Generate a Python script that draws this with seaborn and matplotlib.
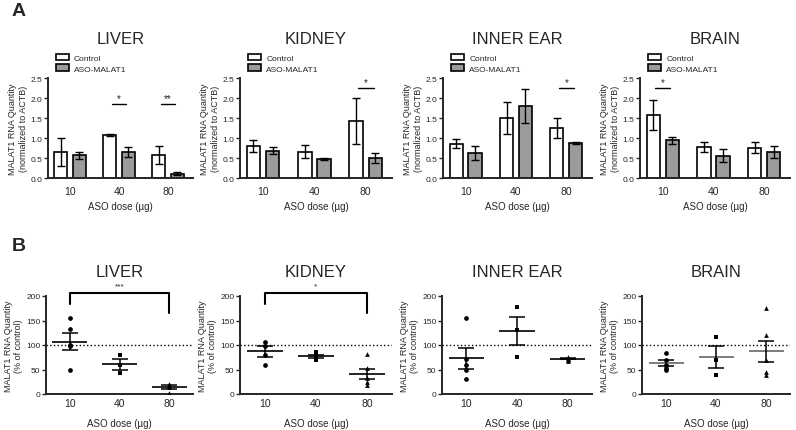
import numpy as np
import pandas as pd
import matplotlib
matplotlib.use('Agg')
import matplotlib.pyplot as plt
import seaborn as sns

tissues = ['LIVER', 'KIDNEY', 'INNER EAR', 'BRAIN']
doses = ['10', '40', '80']
groups = ['Control', 'ASO-MALAT1']

# Panel A: MALAT1 RNA (normalized to ACTB), mean and error per dose
ctrl_mean = {'LIVER': [0.65, 1.07, 0.58], 'KIDNEY': [0.80, 0.66, 1.42],
             'INNER EAR': [0.86, 1.50, 1.25], 'BRAIN': [1.57, 0.77, 0.76]}
ctrl_err = {'LIVER': [0.36, 0.03, 0.22], 'KIDNEY': [0.14, 0.17, 0.58],
            'INNER EAR': [0.12, 0.41, 0.24], 'BRAIN': [0.38, 0.12, 0.14]}
aso_mean = {'LIVER': [0.57, 0.65, 0.11], 'KIDNEY': [0.68, 0.47, 0.50],
            'INNER EAR': [0.62, 1.80, 0.88], 'BRAIN': [0.94, 0.56, 0.64]}
aso_err = {'LIVER': [0.09, 0.12, 0.03], 'KIDNEY': [0.09, 0.02, 0.12],
           'INNER EAR': [0.18, 0.42, 0.02], 'BRAIN': [0.08, 0.16, 0.15]}
sig_a = {'LIVER': {'40': '*', '80': '**'}, 'KIDNEY': {'80': '*'},
         'INNER EAR': {'80': '*'}, 'BRAIN': {'10': '*'}}

# Panel B: MALAT1 RNA (% of control), individual animals
pts_b = {
    'LIVER': {'10': [155, 133, 100, 97, 50], '40': [80, 60, 42], '80': [20, 17, 14, 3]},
    'KIDNEY': {'10': [107, 97, 80, 60], '40': [85, 80, 77, 72, 70],
               '80': [81, 53, 32, 24, 18]},
    'INNER EAR': {'10': [155, 72, 59, 49, 31], '40': [178, 131, 75],
                  '80': [76, 73, 72, 70, 68]},
    'BRAIN': {'10': [83, 69, 59, 54, 50], '40': [116, 69, 39],
              '80': [176, 120, 69, 44, 38]},
}
mean_b = {'LIVER': [107, 61, 14], 'KIDNEY': [87, 77, 41],
          'INNER EAR': [73, 128, 72], 'BRAIN': [63, 75, 87]}
sem_b = {'LIVER': [18, 11, 4], 'KIDNEY': [11, 3, 10.5],
         'INNER EAR': [21, 29, 1.5], 'BRAIN': [6, 22, 21]}
sig_b = {'LIVER': '***', 'KIDNEY': '*'}
markers = ['o', 's', '^']

sns.set_theme(style='ticks')
plt.rcParams['font.family'] = ['Liberation Sans', 'DejaVu Sans']
plt.rcParams['axes.linewidth'] = 1.4

fig = plt.figure(figsize=(7.96, 4.31), dpi=100)
W, H = 796.0, 431.0

def px_axes(x0, x1, y0, y1):
    return fig.add_axes([x0 / W, 1 - y1 / H, (x1 - x0) / W, (y1 - y0) / H])

a_x = [(48, 193), (240, 392), (443, 592), (640, 790)]
b_x = [(46, 193), (240, 392), (442, 592), (642, 790)]

for tissue, (x0, x1) in zip(tissues, a_x):
    ax = px_axes(x0, x1, 79, 179)
    df = pd.DataFrame({
        'dose': doses * 2,
        'group': [g for g in groups for _ in doses],
        'value': ctrl_mean[tissue] + aso_mean[tissue],
    })
    sns.barplot(data=df, x='dose', y='value', hue='group', order=doses,
                hue_order=groups, palette=['white', '#9b9b9b'],
                edgecolor='black', linewidth=1.2, width=0.75, gap=0.3,
                errorbar=None, ax=ax)
    for cont, errs in zip(ax.containers, [ctrl_err[tissue], aso_err[tissue]]):
        xs = [b.get_x() + b.get_width() / 2 for b in cont]
        hs = [b.get_height() for b in cont]
        ax.errorbar(xs, hs, yerr=errs, fmt='none', ecolor='black',
                    elinewidth=1, capsize=3, capthick=1, zorder=5)
    sig_y = 1.85 if tissue == 'LIVER' else 2.25
    for d, lab in sig_a[tissue].items():
        i = doses.index(d)
        ax.plot([i - 0.15, i + 0.15], [sig_y, sig_y], color='black', lw=1)
        ax.text(i, sig_y + 0.03, lab, ha='center', va='bottom', fontsize=7)
    ax.set_ylim(0, 2.5)
    ax.set_yticks(np.arange(0, 2.51, 0.5))
    ax.set_yticklabels(['%.1f' % v for v in np.arange(0, 2.51, 0.5)])
    ax.set_xlim(-0.45, 2.51)
    ax.set_ylabel('MALAT1 RNA Quantity\n(normalized to ACTB)', fontsize=6.5, labelpad=2)
    ax.set_xlabel('ASO dose (µg)', fontsize=7, labelpad=3)
    ax.tick_params(axis='x', length=0, labelsize=7.5, pad=6)
    ax.tick_params(axis='y', length=3, width=1, labelsize=6, pad=1)
    sns.despine(ax=ax)
    sns.move_legend(ax, 'lower left', bbox_to_anchor=(0.03, 1.02), frameon=False,
                    title=None, fontsize=6, handlelength=1.6, handleheight=0.9,
                    labelspacing=0.3, borderaxespad=0, handletextpad=0.6)
    ax.text(0.5, 1.39, tissue, transform=ax.transAxes, ha='center', va='center',
            fontsize=12)

for tissue, (x0, x1) in zip(tissues, b_x):
    ax = px_axes(x0, x1, 297, 395)
    rows = [(d, v) for d in doses for v in pts_b[tissue][d]]
    pts = pd.DataFrame(rows, columns=['dose', 'value'])
    ax.axhline(100, ls=':', color='black', lw=1, zorder=1)
    for d, m in zip(doses, markers):
        sns.stripplot(data=pts[pts['dose'] == d], x='dose', y='value', order=doses,
                      marker=m, color='black', size=3.4, jitter=False, ax=ax,
                      zorder=3)
    xs = np.arange(len(doses))
    mcol = '#666666' if tissue == 'BRAIN' else 'black'
    ax.hlines(mean_b[tissue], xs - 0.35, xs + 0.35, color=mcol, lw=1.2, zorder=4)
    ax.errorbar(xs, mean_b[tissue], yerr=sem_b[tissue], fmt='none', ecolor='black',
                elinewidth=1.1, capsize=6, capthick=1.1, zorder=4)
    if tissue in sig_b:
        ax.plot([0, 0, 2, 2], [184, 207, 207, 166], color='black', lw=1.5,
                clip_on=False)
        ax.text(1, 214, sig_b[tissue], ha='center', va='bottom', fontsize=6)
    ax.set_ylim(0, 200)
    ax.set_yticks([0, 50, 100, 150, 200])
    ax.set_xlim(-0.48, 2.48)
    ax.set_ylabel('MALAT1 RNA Quantity\n(% of control)', fontsize=6.5, labelpad=2)
    ax.set_xlabel('ASO dose (µg)', fontsize=7, labelpad=7)
    ax.tick_params(axis='x', length=0, labelsize=7.5, pad=3)
    ax.tick_params(axis='y', length=3, width=1, labelsize=6, pad=1)
    sns.despine(ax=ax)
    ax.text(0.5, 1.245, tissue, transform=ax.transAxes, ha='center', va='center',
            fontsize=12)

fig.text(12 / W, 1 - 12 / H, 'A', fontsize=14, fontweight='bold', va='center')
fig.text(12 / W, 1 - 247 / H, 'B', fontsize=14, fontweight='bold', va='center')

fig.savefig('out.png', dpi=100)
